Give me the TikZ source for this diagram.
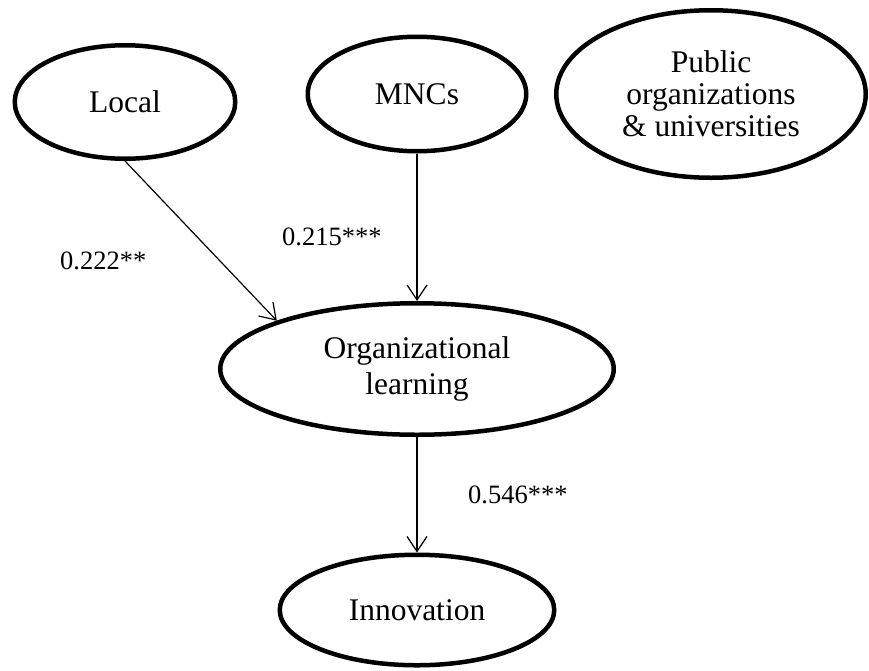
\documentclass[tikz,border=0pt]{standalone}
\usepackage{fontspec}
\setmainfont{Liberation Serif}
\usetikzlibrary{shapes.geometric,arrows.meta}
\begin{document}
\begin{tikzpicture}[x=1pt,y=-1pt,
  construct/.style={ellipse,draw,line width=4.5pt,inner sep=0pt,align=center,
    font=\fontsize{31.5}{32}\selectfont},
  path/.style={line width=1.2pt,-{Straight Barb[length=15pt,width=20pt]}},
  coef/.style={anchor=base west,inner sep=0pt,font=\fontsize{26.5}{30}\selectfont}]
  \useasboundingbox (0,0) rectangle (869,670);
  % latent constructs
  \node[construct,minimum width=220.5pt,minimum height=113.5pt] (loc) at (125,102) {Local};
  \node[construct,minimum width=218.5pt,minimum height=114.5pt] (mnc) at (417,94) {MNCs};
  \node[construct,minimum width=309.5pt,minimum height=167.5pt] (pub) at (711,94)
    {Public\\organizations\\\& universities};
  \node[construct,minimum width=393.5pt,minimum height=131.5pt,
    font=\fontsize{31.5}{36.5}\selectfont] (org) at (417,369) {Organizational\\learning};
  \node[construct,minimum width=274.5pt,minimum height=110.5pt] (inn) at (417,610) {Innovation};
  % structural paths
  \draw[path] (loc.south) -- (org.161);
  \draw[path] (mnc.south) -- (org.north);
  \draw[path] (org.south) -- (inn.north);
  % path coefficients
  \node[coef] (c1) at (60,269) {0.222**};
  \node[coef] (c2) at (282,245) {0.215***};
  \node[coef] (c3) at (468,503) {0.546***};
\end{tikzpicture}
\end{document}
